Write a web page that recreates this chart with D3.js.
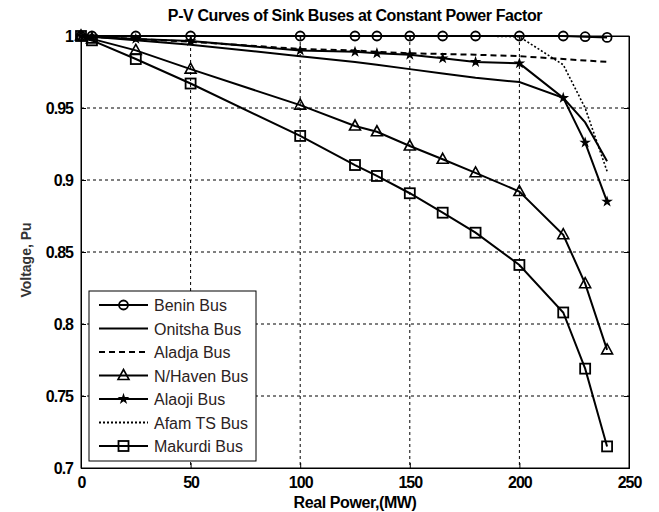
<!DOCTYPE html>
<meta charset="utf-8">
<head>
  <title>P-V Curves</title>
  <script src="https://d3js.org/d3.v7.min.js"></script>
  <style>
    body { margin: 0; background: white; }
    text { font-family: "Liberation Sans", Arial, sans-serif; }
    .tick-label { font-size: 16px; font-weight: bold; fill: black; letter-spacing: -1px; }
    .title { font-size: 16px; font-weight: bold; letter-spacing: -0.4px; }
    .legend text { font-family: "Liberation Sans", Arial, sans-serif; font-size: 16px; fill: #2b2222; }
  </style>
</head>
<body>
<script>
  // data
  var powerMW = [0, 5, 25, 50, 100, 125, 135, 150, 165, 180, 200, 220, 230, 240];
  var benin   = [1, 1, 1, 1, 1, 1, 1, 1, 1, 1, 1, 1, 0.9995, 0.999];
  var onitsha = [1, 0.9995, 0.997, 0.994, 0.986, 0.982, 0.980, 0.977, 0.974, 0.971, 0.968, 0.957, 0.940, 0.913];
  var aladja  = [1, 0.9995, 0.998, 0.996, 0.991, 0.990, 0.989, 0.988, 0.9875, 0.987, 0.986, 0.984, 0.983, 0.982];
  var nhaven  = [1, 0.998, 0.990, 0.977, 0.952, 0.9375, 0.9335, 0.9236, 0.9144, 0.905, 0.892, 0.862, 0.828, 0.782];
  var alaoji  = [1, 0.9995, 0.998, 0.9965, 0.990, 0.989, 0.988, 0.987, 0.9845, 0.982, 0.981, 0.957, 0.926, 0.885];
  var afam    = [1, 1, 1, 1, 1, 1, 1, 1, 1, 1, 0.9995, 0.980, 0.950, 0.906];
  var makurdi = [1, 0.997, 0.984, 0.967, 0.9306, 0.9104, 0.9028, 0.8908, 0.8773, 0.8634, 0.841, 0.808, 0.769, 0.715];

  var seriesNames = ["Benin Bus", "Onitsha Bus", "Aladja Bus", "N/Haven Bus", "Alaoji Bus", "Afam TS Bus", "Makurdi Bus"];
  var xTicks = [0, 50, 100, 150, 200, 250];
  var yTicks = [0.7, 0.75, 0.8, 0.85, 0.9, 0.95, 1];

  var series = [
    { name: seriesNames[0], v: benin,   dash: null,  marker: "circle" },
    { name: seriesNames[1], v: onitsha, dash: null,  marker: null },
    { name: seriesNames[2], v: aladja,  dash: "6,4", marker: null },
    { name: seriesNames[3], v: nhaven,  dash: null,  marker: "triangle" },
    { name: seriesNames[4], v: alaoji,  dash: null,  marker: "star" },
    { name: seriesNames[5], v: afam,    dash: "2,2", marker: null },
    { name: seriesNames[6], v: makurdi, dash: null,  marker: "square" }
  ];

  var margin = { top: 36, right: 30, bottom: 44, left: 81 };
  var W = 659, H = 512;
  var width = W - margin.left - margin.right;
  var height = H - margin.top - margin.bottom;

  var svg = d3.select("body").append("svg")
    .attr("width", W)
    .attr("height", H);

  var g = svg.append("g")
    .attr("transform", "translate(" + margin.left + "," + margin.top + ")");

  var x = d3.scaleLinear().domain([0, 250]).range([0, width]);
  var y = d3.scaleLinear().domain([0.7, 1]).range([height, 0]);

  // grid
  g.selectAll(".vgrid").data(xTicks.slice(1, -1)).enter().append("line")
    .attr("x1", function(d) { return x(d); }).attr("x2", function(d) { return x(d); })
    .attr("y1", 0).attr("y2", height)
    .attr("stroke", "black").attr("stroke-dasharray", "3,3");
  g.selectAll(".hgrid").data(yTicks.slice(1, -1)).enter().append("line")
    .attr("y1", function(d) { return y(d); }).attr("y2", function(d) { return y(d); })
    .attr("x1", 0).attr("x2", width)
    .attr("stroke", "black").attr("stroke-dasharray", "3,3");

  // axes (inner ticks, like matlab)
  var xAxis = d3.axisBottom(x).tickValues(xTicks).tickSize(-5).tickPadding(9).tickFormat(d3.format("d"));
  var yAxis = d3.axisLeft(y).tickValues(yTicks).tickSize(-5).tickPadding(8).tickFormat(function(d) { return String(+d.toFixed(2)); });

  g.append("g").attr("transform", "translate(0," + height + ")").call(xAxis)
    .call(function(s) { s.selectAll("text").attr("class", "tick-label"); });
  g.append("g").call(yAxis)
    .call(function(s) { s.selectAll("text").attr("class", "tick-label"); });
  g.append("g").call(d3.axisTop(x).tickValues(xTicks).tickSize(-5).tickFormat(""));
  g.append("g").attr("transform", "translate(" + width + ",0)")
    .call(d3.axisRight(y).tickValues(yTicks).tickSize(-5).tickFormat(""));
  g.selectAll(".domain").attr("stroke", "black");
  g.selectAll(".tick line").attr("stroke", "black");

  g.append("rect").attr("width", width).attr("height", height)
    .attr("fill", "none").attr("stroke", "black");

  var line = d3.line()
    .x(function(d, i) { return x(powerMW[i]); })
    .y(function(d) { return y(d); });

  function drawMarker(sel, type, cx, cy) {
    if (type === "circle") {
      sel.append("circle").attr("cx", cx).attr("cy", cy).attr("r", 4.5)
        .attr("fill", "none").attr("stroke", "black").attr("stroke-width", 1.8);
    } else if (type === "square") {
      sel.append("rect").attr("x", cx - 5).attr("y", cy - 5).attr("width", 10).attr("height", 10)
        .attr("fill", "none").attr("stroke", "black").attr("stroke-width", 1.8);
    } else if (type === "triangle") {
      sel.append("path")
        .attr("d", "M" + cx + "," + (cy - 6) + "L" + (cx + 5.5) + "," + (cy + 4) + "L" + (cx - 5.5) + "," + (cy + 4) + "Z")
        .attr("fill", "none").attr("stroke", "black").attr("stroke-width", 1.6);
    } else if (type === "star") {
      sel.append("path")
        .attr("transform", "translate(" + cx + "," + cy + ")")
        .attr("d", d3.symbol().type(d3.symbolStar).size(20)())
        .attr("fill", "black").attr("stroke", "black").attr("stroke-width", 1.2);
    }
  }

  series.forEach(function(s) {
    g.append("path")
      .datum(s.v)
      .attr("d", line)
      .attr("fill", "none")
      .attr("stroke", "black")
      .attr("stroke-width", s.dash === "2,2" ? 1.6 : 2)
      .attr("stroke-dasharray", s.dash);
    if (s.marker) {
      var mg = g.append("g");
      s.v.forEach(function(v, i) { drawMarker(mg, s.marker, x(powerMW[i]), y(v)); });
    }
  });

  // legend
  var leg = svg.append("g").attr("class", "legend").attr("transform", "translate(89,291)");
  leg.append("rect").attr("width", 167).attr("height", 170)
    .attr("fill", "white").attr("stroke", "black");
  series.forEach(function(s, i) {
    var ly = 14 + i * 23.5;
    leg.append("line").attr("x1", 10).attr("x2", 59).attr("y1", ly).attr("y2", ly)
      .attr("stroke", "black").attr("stroke-width", 2).attr("stroke-dasharray", s.dash);
    if (s.marker) drawMarker(leg, s.marker, 34.5, ly);
    leg.append("text").attr("x", 65).attr("y", ly + 6).text(s.name);
  });

  // title and labels
  svg.append("text").attr("class", "title")
    .attr("x", margin.left + width / 2).attr("y", 21)
    .attr("text-anchor", "middle")
    .text("P-V Curves of Sink Buses at Constant Power Factor");
  svg.append("text").attr("class", "title")
    .attr("x", margin.left + width / 2).attr("y", 508)
    .attr("text-anchor", "middle")
    .text("Real Power,(MW)");
  svg.append("text")
    .attr("transform", "translate(31," + (margin.top + height / 2 + 8) + ") rotate(-90)")
    .attr("text-anchor", "middle")
    .style("font-size", "14px").style("font-weight", "bold").style("fill", "#333")
    .text("Voltage, Pu");
</script>
</body>
</html>
